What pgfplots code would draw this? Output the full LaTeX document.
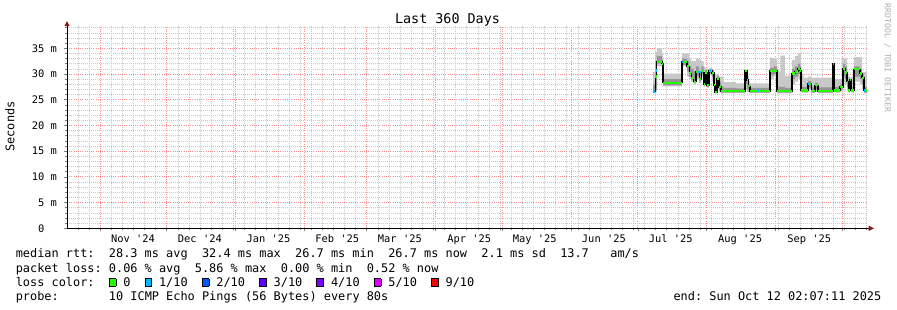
\documentclass[border=0pt]{standalone}
\usepackage{pgfplots}
\pgfplotsset{compat=1.18}
\usepackage{pgfplotstable}
\usepgfplotslibrary{fillbetween}
\usepackage{fontspec}
\setmainfont{DejaVu Sans Mono}
\definecolor{mgrid}{RGB}{255,140,140}
\definecolor{sgrid}{RGB}{200,200,200}
\definecolor{arrowred}{RGB}{140,20,20}
\definecolor{smokeL}{RGB}{200,200,200}
\definecolor{smokeD}{RGB}{150,150,150}
\definecolor{loss0}{RGB}{38,255,0}
\definecolor{loss1}{RGB}{0,184,255}
\definecolor{loss2}{RGB}{0,89,255}
\definecolor{loss3}{RGB}{94,0,255}
\definecolor{loss4}{RGB}{126,0,255}
\definecolor{loss5}{RGB}{221,0,255}
\definecolor{loss9}{RGB}{255,0,0}
\newcommand\fTitle{\fontsize{13.4}{15}\selectfont}
\newcommand\fAxis{\fontsize{10.4}{12}\selectfont}
\newcommand\fUnit{\fontsize{11.9}{14}\selectfont}
\newcommand\fLeg{\fontsize{11.9}{14}\selectfont}
\newcommand\fWm{\fontsize{8.2}{10}\selectfont}
\newcommand\lbox[1]{\makebox[0.602em][c]{\raisebox{0.6pt}{\setlength\fboxsep{0pt}\setlength\fboxrule{0.8pt}\fcolorbox{black}{#1}{\rule{0pt}{6.6pt}\rule{6pt}{0pt}}}}}
\newcommand\q{\textquotesingle}

\pgfplotstableread{
x med lo hi dlo dhi
263.7 26.6 26.3 30.4 26.4 28.0
264.8 29.5 26.5 34.3 27.0 32.5
265.4 32.3 31.6 35.0 32.0 33.5
267.8 32.0 31.5 34.0 31.8 32.8
268.2 28.3 27.6 30.1 27.8 29.0
276.8 32.3 31.5 34.0 31.8 33.0
279.0 31.5 29.5 34.0 30.5 32.5
280.0 30.1 29.0 33.0 29.5 31.5
281.0 29.2 28.5 32.5 28.8 31.0
282.0 28.5 28.0 32.5 28.3 30.5
283.0 30.4 29.0 33.0 29.5 31.5
284.5 29.0 28.3 32.8 28.6 30.5
285.5 30.6 29.5 32.5 30.0 31.5
286.5 28.0 27.5 31.5 27.8 29.5
287.1 30.3 28.0 31.1 29.0 30.8
288.0 27.8 27.3 31.1 27.5 29.5
288.9 30.7 29.8 31.1 30.2 31.0
290.3 30.2 28.5 31.0 29.5 30.6
291.2 27.8 26.8 30.0 27.2 29.0
291.6 26.5 26.2 30.0 26.3 27.5
292.5 29.1 27.0 30.0 27.5 29.6
293.4 27.5 26.5 29.5 26.8 28.5
294.3 26.7 26.3 29.5 26.4 27.5
295.5 26.7 26.3 28.4 26.4 27.3
301.0 26.7 26.3 28.2 26.4 27.2
305.1 30.6 27.0 30.8 28.0 30.7
306.0 28.8 26.6 30.0 27.0 29.5
306.6 27.6 26.4 28.5 26.6 28.0
307.3 26.7 26.3 28.2 26.4 27.3
316.3 30.6 29.0 33.2 29.8 31.2
318.0 30.6 29.5 33.0 30.0 31.5
319.5 26.7 26.3 30.4 26.4 27.5
321.0 26.7 26.3 33.6 26.4 27.5
323.0 26.7 26.3 29.7 26.4 27.3
326.3 30.1 28.0 32.7 29.0 31.0
327.6 30.5 28.5 33.5 29.5 31.5
328.9 31.0 29.0 34.0 30.0 32.0
329.9 30.7 27.5 34.0 28.5 31.5
330.3 26.8 26.4 30.1 26.5 27.5
331.5 26.8 26.4 29.3 26.5 27.5
333.5 28.1 26.8 29.5 27.2 28.6
335.0 26.7 26.3 29.3 26.4 27.5
336.6 27.8 26.6 29.3 27.0 28.3
338.0 26.7 26.3 29.3 26.4 27.4
344.7 32.0 26.8 32.2 27.5 32.0
345.3 26.8 26.4 29.0 26.5 27.5
347.8 27.5 26.6 29.0 27.0 28.0
348.6 27.5 26.6 33.0 27.0 29.0
349.2 31.0 28.5 33.0 29.5 32.0
350.2 30.3 28.0 33.0 29.0 31.5
351.0 28.5 27.0 30.0 27.5 29.5
351.6 26.8 26.4 29.5 26.5 27.8
352.3 28.8 26.8 29.5 27.5 29.0
353.0 26.8 26.4 29.5 26.5 27.5
354.1 30.9 28.5 33.3 29.5 31.5
356.8 30.1 28.0 33.3 29.0 31.0
357.8 29.3 27.0 30.4 28.0 30.0
358.6 26.8 26.3 30.4 26.4 27.5
360.0 26.8 26.3 30.4 26.4 27.5
}\smoke

\begin{document}
\begin{tikzpicture}
\begin{axis}[
  at={(0pt,0pt)}, anchor=south west,
  scale only axis, width=800pt, height=202.1pt,
  xmin=0, xmax=360, ymin=0, ymax=39.3,
  axis lines=left,
  axis line style={-, line width=0.8pt, black},
  xtick={14.9,44.9,75.9,106.9,134.9,165.9,195.9,226.9,256.9,287.9,318.9,348.9},
  xticklabels={},
  extra x ticks={29.7,59.8,90.7,121.6,149.8,181.0,210.5,241.6,271.7,302.9,334.0},
  extra x tick labels={Nov \q24,Dec \q24,Jan \q25,Feb \q25,Mar \q25,Apr \q25,May \q25,Jun \q25,Jul \q25,Aug \q25,Sep \q25},
  extra x tick style={xmajorgrids=false, major tick length=0pt, tick style={draw=none}},
  minor xtick={4.9,9.9,19.9,24.9,29.9,34.9,39.9,49.9,54.9,59.9,64.9,69.9,74.9,79.9,84.9,89.9,94.9,99.9,104.9,109.9,114.9,119.9,124.9,129.9,139.9,144.9,149.9,154.9,159.9,164.9,169.9,174.9,179.9,184.9,189.9,194.9,199.9,204.9,209.9,214.9,219.9,224.9,229.9,234.9,239.9,244.9,249.9,254.9,259.9,264.9,269.9,274.9,279.9,284.9,289.9,294.9,299.9,304.9,309.9,314.9,319.9,324.9,329.9,334.9,339.9,344.9,349.9,354.9,359.9},
  ytick={0,5,10,15,20,25,30,35},
  yticklabels={0\phantom{~m},5~m,10~m,15~m,20~m,25~m,30~m,35~m},
  minor ytick={1,2,3,4,6,7,8,9,11,12,13,14,16,17,18,19,21,22,23,24,26,27,28,29,31,32,33,34,36,37,38,39},
  xmajorgrids, xminorgrids, ymajorgrids, yminorgrids,
  tick align=outside, major tick length=3pt, minor tick length=2pt,
  tick style={line width=0.6pt},
  major grid style={draw=mgrid, line width=0.8pt, dash pattern=on 1pt off 1.2pt},
  minor grid style={draw=sgrid, line width=0.7pt, dash pattern=on 1pt off 1pt},
  xticklabel style={font=\fAxis, inner sep=0pt, anchor=north, yshift=-6pt},
  yticklabel style={font=\fAxis, inner sep=0pt, anchor=east, xshift=-7pt},
  after end axis/.code={
    \draw[black, line width=0.8pt] (rel axis cs:1,0) -- ++(2pt,0);
    \fill[arrowred] (rel axis cs:1,0) ++(7pt,0) -- ++(-5.5pt,2.7pt) -- ++(0,-5.4pt) -- cycle;
    \fill[arrowred] (rel axis cs:0,1) ++(0,5pt) -- ++(-2.7pt,-5pt) -- ++(5.4pt,0) -- cycle;
  },
]
\addplot[draw=none, const plot, name path=hi, forget plot] table[x=x,y=hi]{\smoke};
\addplot[draw=none, const plot, name path=lo, forget plot] table[x=x,y=lo]{\smoke};
\addplot[smokeL, forget plot] fill between[of=hi and lo];
\addplot[draw=none, const plot, name path=dhi, forget plot] table[x=x,y=dhi]{\smoke};
\addplot[draw=none, const plot, name path=dlo, forget plot] table[x=x,y=dlo]{\smoke};
\addplot[smokeD, forget plot] fill between[of=dhi and dlo];
\addplot[black, line width=1.4pt, const plot] table[x=x,y=med]{\smoke};
\addplot[loss0, line width=2.2pt, jump mark left] table[x=x,y=med]{\smoke};
\addplot[loss1, line width=2.2pt, unbounded coords=jump] coordinates {
(263.7,26.6) (264.4,26.6) (264.5,nan)
(264.9,30.7) (265.3,30.7) (265.4,nan)
(276.9,32.3) (277.6,32.3) (277.7,nan)
(283.9,30.4) (285.2,30.4) (285.3,nan)
(289.2,30.7) (289.8,30.7) (289.9,nan)
(297.0,26.7) (297.6,26.7) (297.7,nan)
(302.2,26.7) (302.8,26.7) (302.9,nan)
(310.8,26.8) (311.6,26.8) (311.7,nan)
(312.3,26.9) (312.9,26.9) (313.0,nan)
(327.4,30.5) (328.0,30.5) (328.1,nan)
(333.5,28.1) (334.2,28.1) (334.3,nan)
(344.7,32.0) (345.2,32.0) (345.3,nan)
(358.6,26.8) (359.5,26.8)
};
\end{axis}
\node[anchor=base, font=\fTitle, inner sep=0pt] at (380.5pt,204.3pt) {Last 360 Days};
\node[rotate=90, font=\fUnit, inner sep=0pt] at (-57pt,101.8pt) {Seconds};
\node[rotate=-90, font=\fWm, text={rgb,255:red,175;green,175;blue,175}, inner sep=0pt] at (820.5pt,170.3pt) {RRDTOOL / TOBI OETIKER};
\node[anchor=base west, inner sep=0pt, font=\fLeg] at (-51.4pt,-29.4pt) {median~rtt:~~28.3~ms~avg~~32.4~ms~max~~26.7~ms~min~~26.7~ms~now~~2.1~ms~sd~~13.7~~~am/s};
\node[anchor=base west, inner sep=0pt, font=\fLeg] at (-51.4pt,-43.8pt) {packet~loss:~0.06~\%~avg~~5.86~\%~max~~0.00~\%~min~~0.52~\%~now};
\node[anchor=base west, inner sep=0pt, font=\fLeg] at (-51.4pt,-58.2pt) {loss~color:~~\lbox{loss0}~0~~\lbox{loss1}~1/10~~\lbox{loss2}~2/10~~\lbox{loss3}~3/10~~\lbox{loss4}~4/10~~\lbox{loss5}~5/10~~\lbox{loss9}~9/10};
\node[anchor=base west, inner sep=0pt, font=\fLeg] at (-51.4pt,-72.6pt) {probe:~~~~~~~10~ICMP~Echo~Pings~(56~Bytes)~every~80s};
\node[anchor=base east, inner sep=0pt, font=\fLeg] at (814.5pt,-72.6pt) {end:~Sun~Oct~12~02:07:11~2025};
\pgfresetboundingbox
\useasboundingbox (-67pt,-81.7pt) rectangle (830pt,228.3pt);
\end{tikzpicture}
\end{document}
